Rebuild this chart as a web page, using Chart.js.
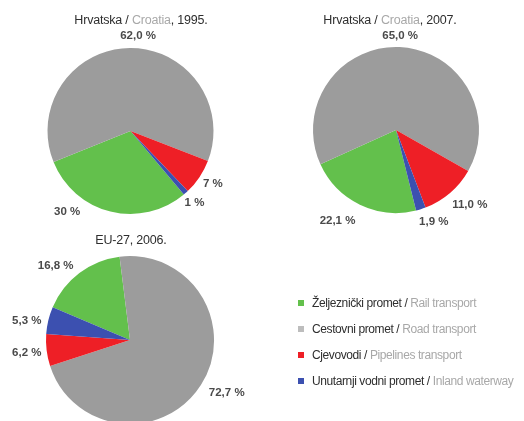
<!DOCTYPE html>
<html>
<head>
<meta charset="utf-8">
<script src="https://cdn.jsdelivr.net/npm/chart.js@4.4.0/dist/chart.umd.min.js"></script>
<style>
  body { margin: 0; background: #fff; }
  #wrap { position: relative; width: 524px; height: 421px; overflow: hidden; background: #fff;
          font-family: "Liberation Sans", Arial, sans-serif; }
  #wrap canvas { position: absolute; left: 0; top: 0; }
  .title { position: absolute; transform: translateX(-50%); white-space: nowrap;
           font-size: 12.5px; line-height: 14px; color: #2e2e2e; letter-spacing: -0.2px; }
  .en { color: #a8a8a8; }
  #legend { position: absolute; left: 296px; top: 296px; }
  .item { position: relative; height: 26px; font-size: 12px; line-height: 14px; white-space: nowrap; color: #2e2e2e; }
  .sw { position: absolute; left: 2px; top: 4px; width: 6px; height: 6px; }
  .txt { position: absolute; left: 16px; top: 0; letter-spacing: -0.4px; }
</style>
</head>
<body>
<div id="wrap">
  <canvas id="pie1" width="524" height="421"></canvas>
  <canvas id="pie2" width="524" height="421"></canvas>
  <canvas id="pie3" width="524" height="421"></canvas>
  <div class="title" style="left:141px; top:13px">Hrvatska / <span class="en">Croatia</span>, 1995.</div>
  <div class="title" style="left:390px; top:13px">Hrvatska / <span class="en">Croatia</span>, 2007.</div>
  <div class="title" style="left:131px; top:233px">EU-27, 2006.</div>
  <div id="legend"></div>
</div>
<script>
// transport modes, same order in every pie
const categoriesHr = ['Željeznički promet', 'Cestovni promet', 'Cjevovodi', 'Unutarnji vodni promet'];
const categoriesEn = ['Rail transport', 'Road transport', 'Pipelines transport', 'Inland waterway'];
const sliceColors = ['#63c04c', '#9c9c9c', '#ee1f26', '#3c50b0'];
const legendColors = ['#63c04c', '#bdbdbd', '#ee1f26', '#3c50b0'];

// shares in %
const hr1995 = [30, 62.0, 7, 1];
const hr2007 = [22.1, 65.0, 11.0, 1.9];
const eu2006 = [16.8, 72.7, 6.2, 5.3];

// label texts as printed
const labels1995 = ['30 %', '62,0 %', '7 %', '1 %'];
const labels2007 = ['22,1 %', '65,0 %', '11,0 %', '1,9 %'];
const labels2006 = ['16,8 %', '72,7 %', '6,2 %', '5,3 %'];

// label placement: angle shift from slice middle (deg), distance from centre (px)
const shift1995 = [24, 5, -1, 0];
const dist1995 = [103, 95, 98, 96];
const shift2007 = [7, 0, -4, -5];
const dist2007 = [108, 94, 105, 99];
const shift2006 = [-8, -4, 0, -3];
const dist2006 = [105, 110, 104, 105];

const sliceLabels = {
  id: 'sliceLabels',
  afterDatasetsDraw(chart, args, opts) {
    const ctx = chart.ctx;
    const arcs = chart.getDatasetMeta(0).data;
    ctx.save();
    ctx.font = 'bold 11.5px "Liberation Sans", Arial, sans-serif';
    ctx.fillStyle = '#4a4a4a';
    ctx.textAlign = 'center';
    ctx.textBaseline = 'middle';
    arcs.forEach((arc, i) => {
      const mid = (arc.startAngle + arc.endAngle) / 2 + opts.shift[i] * Math.PI / 180;
      const d = opts.dist[i];
      ctx.fillText(opts.texts[i], arc.x + Math.cos(mid) * d, arc.y + Math.sin(mid) * d);
    });
    ctx.restore();
  }
};

function makePie(id, values, cx, cy, r, rotation, texts, shift, dist) {
  const half = Math.min(r, 421 - cy - 1, cy - 1);
  return new Chart(document.getElementById(id), {
    type: 'pie',
    data: {
      labels: categoriesHr,
      datasets: [{
        data: values,
        backgroundColor: sliceColors,
        borderWidth: 0,
        radius: r
      }]
    },
    options: {
      responsive: false,
      animation: false,
      rotation: rotation,
      layout: {
        padding: { left: cx - half, top: cy - half, right: 524 - cx - half, bottom: 421 - cy - half }
      },
      events: [],
      plugins: {
        legend: { display: false },
        tooltip: { enabled: false },
        sliceLabels: { texts: texts, shift: shift, dist: dist }
      }
    },
    plugins: [sliceLabels]
  });
}

makePie('pie1', hr1995, 130.5, 131, 83, 140, labels1995, shift1995, dist1995);
makePie('pie2', hr2007, 396, 130, 83, 166, labels2007, shift2007, dist2007);
makePie('pie3', eu2006, 130, 340, 84, 293, labels2006, shift2006, dist2006);

// legend
const legend = document.getElementById('legend');
categoriesHr.forEach((name, i) => {
  const item = document.createElement('div');
  item.className = 'item';
  item.innerHTML = '<span class="sw" style="background:' + legendColors[i] + '"></span>' +
    '<span class="txt">' + name + ' / <span class="en">' + categoriesEn[i] + '</span></span>';
  legend.appendChild(item);
});
</script>
</body>
</html>
